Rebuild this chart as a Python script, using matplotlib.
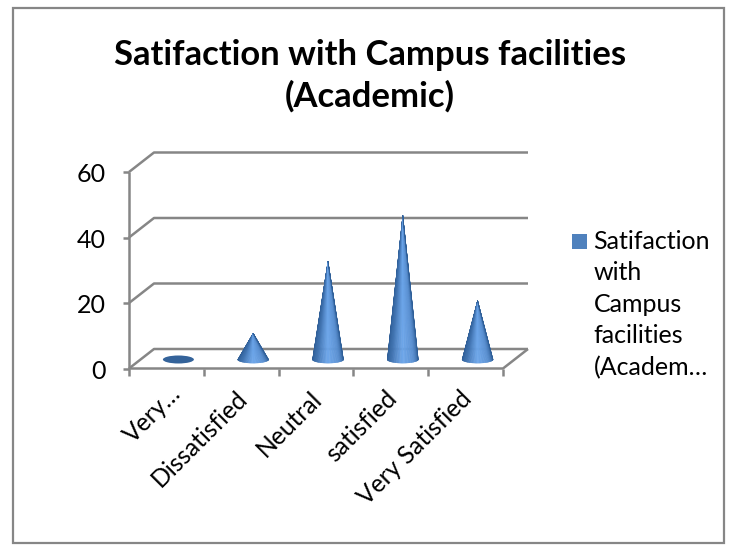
import numpy as np
import matplotlib
matplotlib.use("Agg")
import matplotlib.pyplot as plt
from matplotlib.collections import PolyCollection
from matplotlib.colors import LinearSegmentedColormap
from matplotlib.patches import Ellipse, Rectangle

title_text = "Satifaction with Campus facilities\n(Academic)"
categories = ["Very…", "Dissatisfied", "Neutral", "satisfied", "Very Satisfied"]
values = [0, 8, 30, 44, 18]
y_ticks = [0, 20, 40, 60]
legend_text = "Satifaction\nwith\nCampus\nfacilities\n(Academ…"

W, H = 732, 553
plt.rcParams["font.family"] = ["Lato", "DejaVu Sans"]
fig = plt.figure(figsize=(W / 100, H / 100), dpi=100, facecolor="white")

# plot area: front plane, in pixels
L, R, T, B = 129, 503, 172, 368.5
ax = fig.add_axes([L / W, 1 - B / H, (R - L) / W, (B - T) / H])
ax.set_xlim(0, len(categories))
ax.set_ylim(0, 60)
ax.axis("off")

GRID = "#868686"
LW = 1.8
px = (R - L) / len(categories)   # pixels per category
py = (B - T) / 60                # pixels per value unit
dx, dy = 25 / px, 19.5 / py      # depth of the floor
n = len(categories)
kw = dict(color=GRID, lw=LW, clip_on=False, solid_capstyle="butt", zorder=1)

# walls and floor
for v in y_ticks:
    ax.plot([0, dx, n + dx], [v, v + dy, v + dy], **kw)
    ax.plot([-6 / px, 0], [v, v], **kw)
ax.plot([0, 0], [0, 60], **kw)
ax.plot([0, n, n + dx], [0, 0, dy], **kw)
for i in range(n + 1):
    ax.plot([i, i], [0, -7 / py], **kw)

# tick labels
for v in y_ticks:
    ax.text(-23.5 / px, v - 0.8, str(v), ha="right", va="center", fontsize=18,
            color="black", clip_on=False)
for i, c in enumerate(categories):
    nudge_x, nudge_y = (9, 5) if c.endswith("…") else (0, 0)
    ax.text(i + 0.42 + nudge_x / px, (-18 + nudge_y) / py, c, rotation=45,
            rotation_mode="anchor", ha="right", va="top", fontsize=17.7,
            color="black", clip_on=False)

# cones
cmap = LinearSegmentedColormap.from_list(
    "cone", ["#2c5a92", "#3f72b0", "#6ba5ea", "#5a90d2", "#2f5f98"])
hw = 15.5 / px       # base half width
hh = 3.6 / py        # base half height
cy = 9 / py          # base centre above the front edge
for i, v in enumerate(values):
    cx = i + 0.5 + 12 / px
    if v == 0:
        ax.add_patch(Ellipse((cx, cy), 2 * hw, 2 * 4 / py, fc="#34639a", ec="none",
                             zorder=3, clip_on=False))
        continue
    th = np.linspace(np.pi, 2 * np.pi, 61)
    bx, by = cx + hw * np.cos(th), cy + hh * np.sin(th)
    apex = (cx, cy + v)
    polys = [[apex, (bx[k], by[k]), (bx[k + 1], by[k + 1])] for k in range(60)]
    shade = cmap(np.linspace(0, 1, 60))
    ax.add_collection(PolyCollection(polys, facecolors=shade, edgecolors=shade,
                                     linewidths=0.3, zorder=3, clip_on=False))

# legend
fig.add_artist(Rectangle((572 / W, 1 - 249 / H), 15 / W, 15 / H, fc="#4f81bd",
                         ec="none", transform=fig.transFigure))
fig.text(593.5 / W, 1 - 230 / H, legend_text, ha="left", va="top", fontsize=18,
         linespacing=1.44, color="black")

# title
fig.text(370 / W, 1 - 76 / H, title_text, ha="center", va="center", fontsize=24.9,
         fontweight="bold", linespacing=1.33, color="black")

# outer frame
fig.add_artist(Rectangle((13 / W, 1 - 543 / H), 711 / W, 535 / H, fc="none",
                         ec=GRID, lw=1.6, transform=fig.transFigure))

fig.savefig("out.png", dpi=100, facecolor="white")
